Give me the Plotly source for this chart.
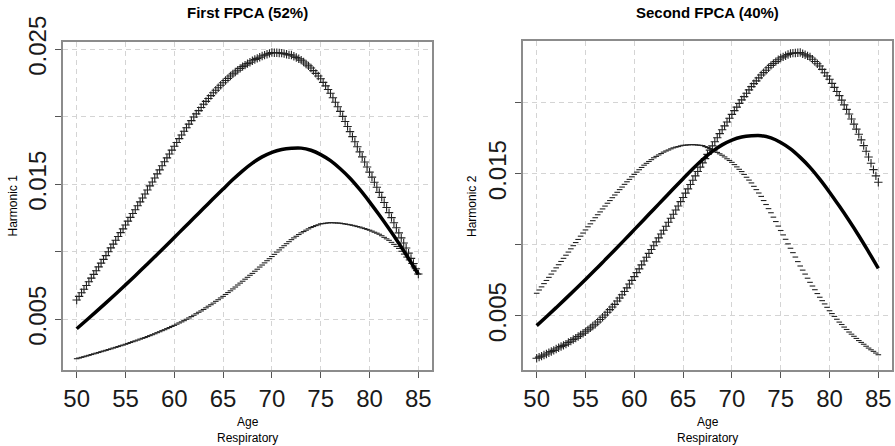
import plotly.graph_objects as go

# ages of the mean curve (integer ages) and of the dense +/- marker curves (every 0.25 year)
ages = list(range(50, 86))
ages_fine = [50 + 0.25 * i for i in range(141)]

mean_curve = [.00430, .00493, .00557, .00622, .00688, .00755, .00823, .00893, .00963, .01034,
              .01106, .01178, .01250, .01322, .01394, .01465, .01535, .01600, .01657, .01703,
              .01737, .01758, .01767, .01768, .01752, .01720, .01675, .01615, .01545, .01462,
              .01370, .01272, .01170, .01063, .00950, .00834]

h1_plus = [
    .00643, .00670, .00697, .00723, .00750, .00778, .00805, .00833, .00860, .00888, .00916, .00944,
    .00972, .01000, .01029, .01057, .01085, .01113, .01142, .01170, .01198, .01227, .01255, .01284,
    .01312, .01341, .01370, .01399, .01428, .01458, .01488, .01517, .01547, .01577, .01607, .01637,
    .01667, .01696, .01725, .01753, .01782, .01810, .01838, .01865, .01893, .01919, .01946, .01972,
    .01998, .02022, .02046, .02069, .02093, .02114, .02136, .02157, .02178, .02197, .02215, .02234,
    .02252, .02269, .02285, .02302, .02318, .02332, .02345, .02359, .02372, .02383, .02394, .02404,
    .02415, .02424, .02433, .02441, .02450, .02457, .02463, .02470, .02476, .02475, .02474, .02473,
    .02472, .02468, .02463, .02459, .02458, .02449, .02439, .02430, .02420, .02406, .02391, .02377,
    .02362, .02342, .02322, .02302, .02282, .02255, .02229, .02202, .02175, .02141, .02108, .02074,
    .02040, .02003, .01965, .01928, .01890, .01853, .01815, .01778, .01740, .01703, .01665, .01628,
    .01590, .01553, .01515, .01478, .01440, .01403, .01365, .01328, .01290, .01253, .01215, .01178,
    .01140, .01103, .01065, .01028, .00990, .00951, .00913, .00874, .00835]

h1_minus = [
    .00208, .00213, .00218, .00223, .00228, .00233, .00239, .00244, .00249, .00254, .00260, .00265,
    .00270, .00276, .00281, .00287, .00292, .00298, .00304, .00309, .00315, .00321, .00328, .00334,
    .00340, .00346, .00353, .00359, .00365, .00372, .00379, .00386, .00393, .00401, .00408, .00416,
    .00423, .00431, .00439, .00447, .00455, .00464, .00473, .00481, .00490, .00500, .00510, .00520,
    .00530, .00541, .00552, .00562, .00573, .00585, .00597, .00608, .00620, .00633, .00645, .00658,
    .00670, .00684, .00698, .00711, .00725, .00739, .00754, .00768, .00782, .00797, .00811, .00826,
    .00840, .00856, .00871, .00887, .00902, .00918, .00934, .00949, .00965, .00981, .00998, .01014,
    .01030, .01045, .01060, .01075, .01090, .01103, .01115, .01128, .01140, .01150, .01160, .01170,
    .01180, .01187, .01194, .01200, .01207, .01209, .01212, .01214, .01216, .01215, .01214, .01213,
    .01212, .01209, .01206, .01203, .01200, .01196, .01192, .01187, .01183, .01177, .01172, .01166,
    .01160, .01153, .01145, .01138, .01130, .01119, .01107, .01096, .01085, .01070, .01055, .01040,
    .01025, .01004, .00983, .00961, .00940, .00914, .00888, .00861, .00835]

h2_plus = [
    .00200, .00208, .00215, .00223, .00230, .00239, .00248, .00256, .00265, .00274, .00283, .00291,
    .00300, .00311, .00321, .00332, .00342, .00353, .00365, .00376, .00387, .00400, .00414, .00427,
    .00440, .00456, .00473, .00489, .00505, .00524, .00543, .00561, .00580, .00603, .00625, .00648,
    .00670, .00696, .00723, .00749, .00775, .00803, .00830, .00858, .00885, .00912, .00939, .00966,
    .00993, .01020, .01048, .01075, .01102, .01130, .01158, .01186, .01214, .01244, .01273, .01303,
    .01332, .01363, .01393, .01424, .01454, .01485, .01515, .01546, .01576, .01606, .01636, .01666,
    .01696, .01725, .01753, .01782, .01810, .01837, .01864, .01891, .01918, .01944, .01969, .01995,
    .02020, .02043, .02067, .02090, .02113, .02134, .02154, .02175, .02195, .02212, .02229, .02246,
    .02263, .02276, .02289, .02302, .02315, .02323, .02331, .02339, .02347, .02349, .02350, .02352,
    .02353, .02345, .02338, .02330, .02322, .02306, .02290, .02274, .02258, .02235, .02211, .02188,
    .02165, .02136, .02108, .02079, .02050, .02018, .01985, .01953, .01920, .01885, .01849, .01814,
    .01778, .01738, .01698, .01658, .01618, .01574, .01529, .01485, .01440]

h2_minus = [
    .00658, .00681, .00703, .00726, .00748, .00770, .00793, .00815, .00837, .00859, .00882, .00904,
    .00926, .00948, .00971, .00993, .01015, .01037, .01060, .01082, .01104, .01126, .01147, .01169,
    .01190, .01211, .01231, .01252, .01272, .01292, .01311, .01331, .01350, .01369, .01388, .01406,
    .01425, .01443, .01460, .01478, .01495, .01511, .01528, .01544, .01560, .01573, .01586, .01599,
    .01612, .01622, .01632, .01642, .01652, .01660, .01667, .01675, .01682, .01687, .01691, .01696,
    .01700, .01701, .01703, .01704, .01705, .01703, .01702, .01700, .01698, .01691, .01684, .01677,
    .01670, .01660, .01650, .01640, .01630, .01618, .01605, .01593, .01580, .01564, .01548, .01531,
    .01515, .01495, .01475, .01455, .01435, .01411, .01388, .01364, .01340, .01311, .01283, .01254,
    .01225, .01194, .01163, .01131, .01100, .01069, .01038, .01006, .00975, .00944, .00913, .00881,
    .00850, .00821, .00793, .00764, .00735, .00709, .00683, .00656, .00630, .00606, .00583, .00559,
    .00535, .00515, .00495, .00475, .00455, .00438, .00420, .00403, .00385, .00370, .00355, .00340,
    .00325, .00312, .00299, .00285, .00272, .00260, .00249, .00237, .00225]

titles = ["First FPCA (52%)", "Second FPCA (40%)"]
ylabels = ["Harmonic 1", "Harmonic 2"]
xlabel = "Age<br>Respiratory"
xticks = [50, 55, 60, 65, 70, 75, 80, 85]
y1_ticks = [0.005, 0.010, 0.015, 0.020, 0.025]
y1_text = ["0.005", "", "0.015", "", "0.025"]
y2_ticks = [0.005, 0.010, 0.015, 0.020]
y2_text = ["0.005", "", "0.015", ""]

FONT = "Liberation Sans, Arial, sans-serif"
W, H = 895, 446

fig = go.Figure()
panels = [("x", "y", h1_plus, h1_minus), ("x2", "y2", h2_plus, h2_minus)]
for xa, ya, plus, minus in panels:
    fig.add_trace(go.Scatter(x=ages_fine, y=minus, mode="markers",
                             marker=dict(symbol="line-ew", size=4, color="#222",
                                         line=dict(width=1.1, color="#222")),
                             xaxis=xa, yaxis=ya, hoverinfo="skip"))
    fig.add_trace(go.Scatter(x=ages_fine, y=plus, mode="markers",
                             marker=dict(symbol="cross-thin", size=6, color="#222",
                                         line=dict(width=1.1, color="#222")),
                             xaxis=xa, yaxis=ya, hoverinfo="skip"))
    fig.add_trace(go.Scatter(x=ages, y=mean_curve, mode="lines",
                             line=dict(color="black", width=3.5, shape="spline"),
                             xaxis=xa, yaxis=ya, hoverinfo="skip"))

common = dict(showgrid=True, gridcolor="#d4d4d4", griddash="5px,4px", gridwidth=1,
              showline=True, linecolor="#8c8c8c", linewidth=1.5, mirror=True,
              ticks="outside", ticklen=6, tickcolor="#555", tickwidth=1, automargin=False,
              tickfont=dict(size=24, color="#1a1a1a", family=FONT), zeroline=False)

def px_x(a, b):
    return [a / W, b / W]

def px_y(top, bottom):
    return [1 - bottom / H, 1 - top / H]

fig.update_layout(
    width=W, height=H, margin=dict(l=0, r=0, t=0, b=0, autoexpand=False),
    paper_bgcolor="white", plot_bgcolor="white", showlegend=False,
    xaxis=dict(common, domain=px_x(63, 432), range=[48.6, 86.4], tickvals=xticks, anchor="y"),
    yaxis=dict(common, domain=px_y(42, 370), range=[0.001244, 0.025541], tickvals=y1_ticks,
               ticktext=y1_text, tickangle=-90, anchor="x"),
    xaxis2=dict(common, domain=px_x(523, 892), range=[48.6, 86.4], tickvals=xticks, anchor="y2"),
    yaxis2=dict(common, domain=px_y(41, 370), range=[0.001176, 0.024345], tickvals=y2_ticks,
                ticktext=y2_text, tickangle=-90, anchor="x2"),
)

ann = []
for i, (cx, ycx) in enumerate([(247.5, 12.5), (707.5, 472)]):
    ann.append(dict(text="<b>" + titles[i] + "</b>", x=cx / W, y=1 - 13 / H, xref="paper", yref="paper",
                    showarrow=False, font=dict(size=15, family=FONT, color="black"),
                    xanchor="center", yanchor="middle"))
    ann.append(dict(text=ylabels[i], x=ycx / W, y=1 - 206 / H, xref="paper", yref="paper",
                    showarrow=False, textangle=-90, font=dict(size=12, family=FONT, color="black"),
                    xanchor="center", yanchor="middle"))
    ann.append(dict(text=xlabel, x=cx / W, y=1 - 430 / H, xref="paper", yref="paper",
                    showarrow=False, font=dict(size=12, family=FONT, color="black"),
                    xanchor="center", yanchor="middle"))
fig.update_layout(annotations=ann)

fig.write_html("out.html", config={"displayModeBar": False},
               post_script="document.body.style.margin='0';")
